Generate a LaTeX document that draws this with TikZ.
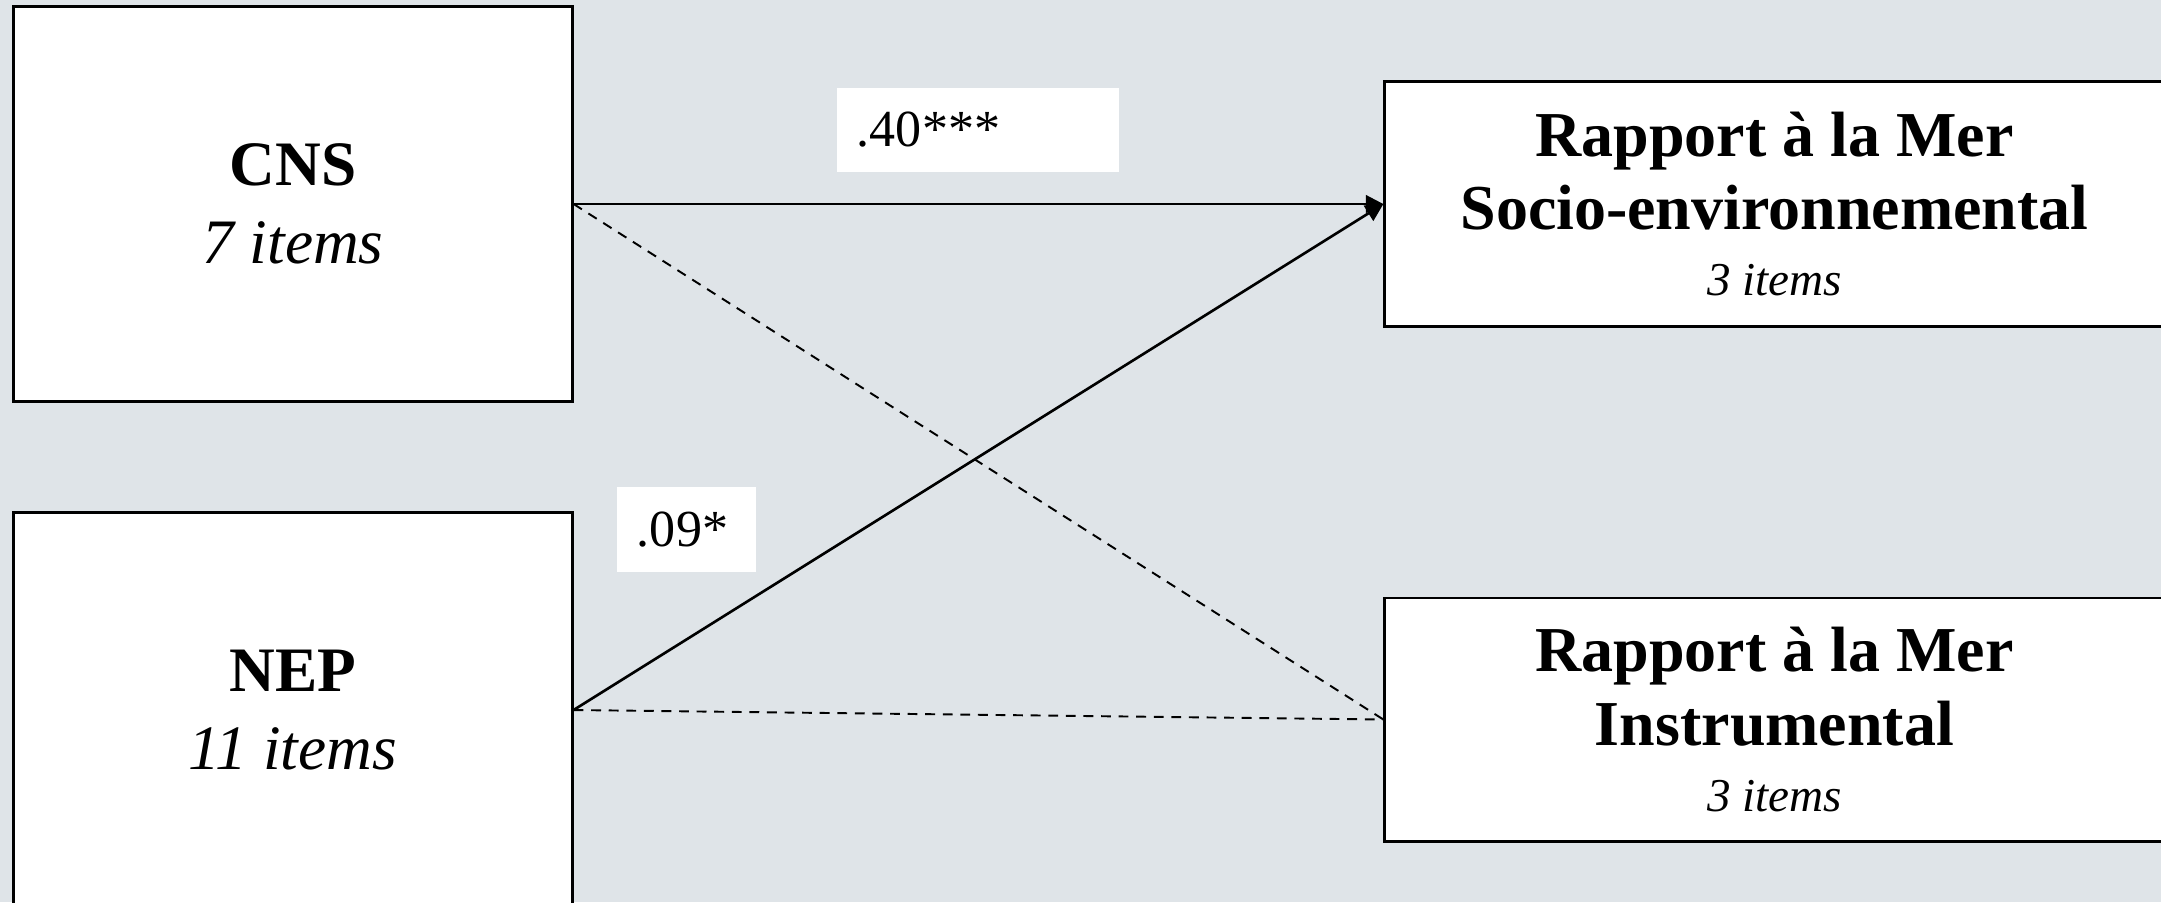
\documentclass[tikz,border=0pt]{standalone}
\usepackage{fontspec}
\setmainfont{Liberation Serif}
\usetikzlibrary{arrows.meta,positioning}
\definecolor{bgGrey}{RGB}{223,228,232}

\begin{document}
\begin{tikzpicture}[x=0.01cm,y=-0.01cm,
  varbox/.style={draw=black, line width=0.8pt, fill=white, inner sep=0pt, align=center},
  predbox/.style={varbox, minimum width=5.58cm, minimum height=3.94cm, font=\fontsize{18}{22.2}\selectfont},
  outbox/.style={varbox, minimum width=7.79cm, minimum height=2.45cm, font=\bfseries\fontsize{18.2}{20.8}\selectfont},
  coef/.style={fill=white, inner xsep=0.2cm, inner ysep=0pt, align=left, minimum height=0.84cm, font=\fontsize{14.8}{17}\selectfont},
  sigpath/.style={line width=0.75pt, -{Triangle[length=5pt,width=5pt]}},
  nspath/.style={line width=0.55pt, dash pattern=on 2.8pt off 2.2pt}]

% background
\path[use as bounding box, fill=bgGrey] (0,0) rectangle (2161,902);

% Predictors (left)
\node[predbox] (cns) at (293,204) {\textbf{CNS}\\\textit{7 items}};
\node[predbox] (nep) at (293,710) {\textbf{NEP}\\\textit{11 items}};

% Outcomes (right)
\node[outbox] (socio) at (1774.5,204) {Rapport à la Mer\\Socio-environnemental\\[-2pt]{\mdseries\itshape\fontsize{13.4}{16}\selectfont 3 items}};
\node[outbox, minimum height=2.43cm] (instru) at (1774.5,719.5) {Rapport à la Mer\\Instrumental\\[-2pt]{\mdseries\itshape\fontsize{13.4}{16}\selectfont 3 items}};

% Paths
\draw[sigpath] (cns.east) -- (socio.west);
\draw[sigpath] (nep.east) -- (socio.west);
\draw[nspath] (cns.east) -- (instru.west);
\draw[nspath] (nep.east) -- (instru.west);

% Coefficients
\node[coef, text width=2.42cm] (b40) at (978,130) {.40***};
\node[coef, text width=0.99cm] (b09) at (686.5,529.5) {.09*};

\end{tikzpicture}
\end{document}
